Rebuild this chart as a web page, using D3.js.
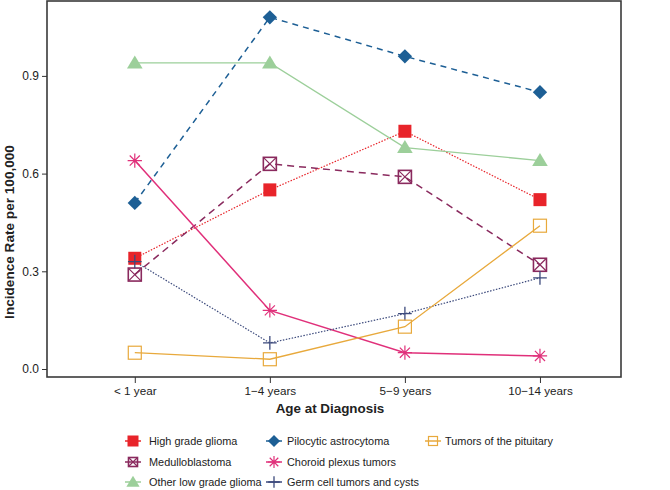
<!DOCTYPE html>
<html><head><meta charset="utf-8">
<script src="https://cdn.jsdelivr.net/npm/d3@7/dist/d3.min.js"></script>
<style>body{margin:0;background:#fff}text{font-family:"Liberation Sans",Arial,sans-serif}</style>
</head><body><svg id="c" width="670" height="490"></svg>
<script>
const categories = ["< 1 year", "1\u22124 years", "5\u22129 years", "10\u221214 years"];
const yTicks = [0.0, 0.3, 0.6, 0.9];
const highGradeGlioma = [0.34, 0.55, 0.73, 0.52];
const pilocyticAstrocytoma = [0.51, 1.08, 0.96, 0.85];
const tumorsPituitary = [0.05, 0.03, 0.13, 0.44];
const medulloblastoma = [0.29, 0.63, 0.59, 0.32];
const choroidPlexus = [0.64, 0.18, 0.05, 0.04];
const otherLowGrade = [0.94, 0.94, 0.68, 0.64];
const germCell = [0.33, 0.08, 0.17, 0.28];

const series = [
  {name:"High grade glioma", values:highGradeGlioma, color:"#e8242a", dash:"1.5,1.5", width:1.2, shape:"fsquare", col:0,row:0},
  {name:"Medulloblastoma", values:medulloblastoma, color:"#8a2a5e", dash:"7,5", width:1.5, shape:"xsquare", col:0,row:1},
  {name:"Other low grade glioma", values:otherLowGrade, color:"#9ccf9a", dash:null, width:1.3, shape:"triangle", col:0,row:2},
  {name:"Pilocytic astrocytoma", values:pilocyticAstrocytoma, color:"#1d5f95", dash:"6,5", width:1.5, shape:"diamond", col:1,row:0},
  {name:"Choroid plexus tumors", values:choroidPlexus, color:"#e0307a", dash:null, width:1.5, shape:"asterisk", col:1,row:1},
  {name:"Germ cell tumors and cysts", values:germCell, color:"#3c4a7c", dash:"1.5,1.5", width:1.2, shape:"plus", col:1,row:2},
  {name:"Tumors of the pituitary", values:tumorsPituitary, color:"#e8a93c", dash:null, width:1.3, shape:"osquare", col:2,row:0}
];

const svg = d3.select("#c");
const L=47, R=621, T=1, B=377;
const x = d3.scaleLinear().domain([-0.65, 3.6]).range([L, R]);
const y = d3.scaleLinear().domain([0, 0.3]).range([369, 271.3]);

function drawMarker(g, shape, color, cx, cy, s) {
  const h = s/2;
  if (shape==="fsquare") {
    g.append("rect").attr("x",cx-h).attr("y",cy-h).attr("width",s).attr("height",s).attr("fill",color);
  } else if (shape==="osquare") {
    g.append("rect").attr("x",cx-h).attr("y",cy-h).attr("width",s).attr("height",s).attr("fill","none").attr("stroke",color).attr("stroke-width",1.2);
  } else if (shape==="xsquare") {
    g.append("rect").attr("x",cx-h).attr("y",cy-h).attr("width",s).attr("height",s).attr("fill","none").attr("stroke",color).attr("stroke-width",1.6);
    g.append("path").attr("d",`M${cx-h},${cy-h}L${cx+h},${cy+h}M${cx+h},${cy-h}L${cx-h},${cy+h}`).attr("stroke",color).attr("stroke-width",1.2);
  } else if (shape==="diamond") {
    g.append("path").attr("d",`M${cx},${cy-h*1.1}L${cx+h*1.1},${cy}L${cx},${cy+h*1.1}L${cx-h*1.1},${cy}Z`).attr("fill",color);
  } else if (shape==="triangle") {
    g.append("path").attr("d",`M${cx},${cy-h*1.15}L${cx+h*1.2},${cy+h*0.85}L${cx-h*1.2},${cy+h*0.85}Z`).attr("fill",color);
  } else if (shape==="asterisk") {
    const r=h*1.1, d=r*0.707;
    g.append("path").attr("d",`M${cx-r},${cy}L${cx+r},${cy}M${cx},${cy-r}L${cx},${cy+r}M${cx-d},${cy-d}L${cx+d},${cy+d}M${cx+d},${cy-d}L${cx-d},${cy+d}`).attr("stroke",color).attr("stroke-width",1.2).attr("fill","none");
  } else if (shape==="plus") {
    const r=h*1.05;
    g.append("path").attr("d",`M${cx-r},${cy}L${cx+r},${cy}M${cx},${cy-r}L${cx},${cy+r}`).attr("stroke",color).attr("stroke-width",1.3).attr("fill","none");
  }
}

// lines
const line = d3.line().x((d,i)=>x(i)).y(d=>y(d));
const plot = svg.append("g");
series.forEach(s=>{
  plot.append("path").datum(s.values).attr("d",line).attr("fill","none")
    .attr("stroke",s.color).attr("stroke-width",s.width).attr("stroke-dasharray",s.dash);
});
series.forEach(s=>{
  const g = plot.append("g");
  s.values.forEach((v,i)=>drawMarker(g, s.shape, s.color, x(i), y(v), 13));
});

// frame
svg.append("rect").attr("x",L).attr("y",T).attr("width",R-L).attr("height",B-T)
  .attr("fill","none").attr("stroke","#3a3a3a").attr("stroke-width",1.6);

// y axis
const yAxis = d3.axisLeft(y).tickValues(yTicks).tickFormat(d3.format(".1f")).tickSize(5).tickPadding(3);
const ya = svg.append("g").attr("transform",`translate(${L},0)`).call(yAxis);
ya.select(".domain").remove();
ya.selectAll("text").attr("font-size",12).attr("fill","#222");
ya.selectAll("line").attr("stroke","#333");

const xAxis = d3.axisBottom(x).tickValues([0,1,2,3]).tickFormat(i=>categories[i]).tickSize(6).tickPadding(4);
const xa = svg.append("g").attr("transform",`translate(0,${B})`).call(xAxis);
xa.select(".domain").remove();
xa.selectAll("text").attr("font-size",11.7).attr("fill","#222");
xa.selectAll("line").attr("stroke","#333");

svg.append("text").attr("transform","translate(14,232)rotate(-90)").attr("text-anchor","middle")
  .attr("font-size",13.6).attr("font-weight","bold").attr("fill","#222").text("Incidence Rate per 100,000");
svg.append("text").attr("x",330).attr("y",413).attr("text-anchor","middle")
  .attr("font-size",13.4).attr("font-weight","bold").attr("fill","#222").text("Age at Diagnosis");

// legend
const colX=[133,274,433], textX=[149,287,445], rowY=[441,462,482];
series.forEach(s=>{
  const cx=colX[s.col], cy=rowY[s.row];
  const g=svg.append("g");
  g.append("line").attr("x1",cx-8).attr("x2",cx+8).attr("y1",cy).attr("y2",cy).attr("stroke",s.color).attr("stroke-width",1.5);
  drawMarker(g, s.shape, s.color, cx, cy, s.shape==="xsquare"||s.shape==="osquare"?9:11);
  g.append("text").attr("x",textX[s.col]).attr("y",cy+4).attr("font-size",10.9).attr("fill","#222").text(s.name);
});
</script></body></html>
